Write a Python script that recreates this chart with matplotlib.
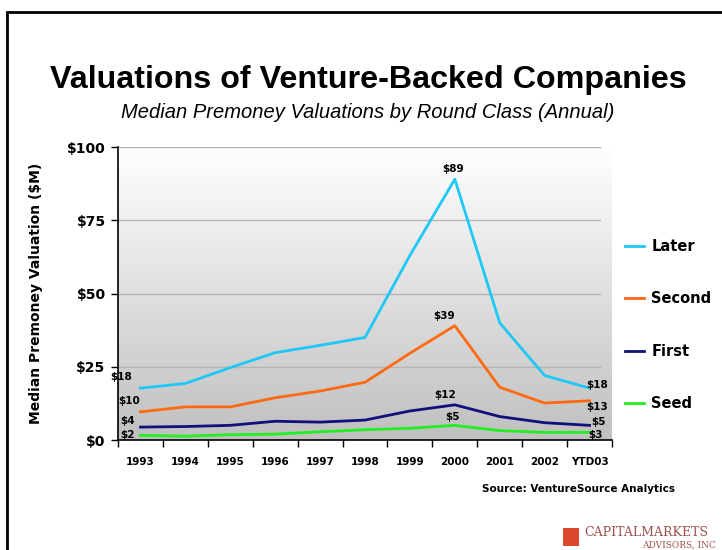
import numpy as np
import matplotlib.pyplot as plt
from matplotlib.patches import Rectangle

years = ['1993', '1994', '1995', '1996', '1997', '1998', '1999', '2000', '2001', '2002', 'YTD03']
later = [17.7, 19.3, 24.7, 29.8, 32.3, 35.0, 63.0, 89.0, 40.0, 22.0, 17.7]
second = [9.6, 11.3, 11.3, 14.4, 16.7, 19.7, 29.6, 39.0, 18.0, 12.6, 13.4]
first = [4.4, 4.6, 5.0, 6.4, 6.1, 6.8, 9.9, 12.0, 8.0, 5.9, 5.0]
seed = [1.6, 1.3, 1.8, 2.0, 2.8, 3.5, 4.0, 5.0, 3.2, 2.6, 2.6]

series = [('Later', later, '#1ec8f5'),
          ('Second', second, '#ff6a10'),
          ('First', first, '#10107a'),
          ('Seed', seed, '#22ee22')]

# label offsets in pixels: (first point, 2000, last point)
label_offsets = {
    'Later': [(-19, 11), (-2, 10), (8, 3)],
    'Second': [(-11, 11), (-11, 10), (8, -6)],
    'First': [(-13, 6), (-10, 10), (9, 3)],
    'Seed': [(-13, 0), (-2, 8), (6, -3)],
}

fig = plt.figure(figsize=(7.22, 5.5), dpi=100)
fig.patches.append(Rectangle((7 / 722, -0.1), 2, 1.1 - 12 / 550, transform=fig.transFigure,
                             fill=False, edgecolor='black', linewidth=2))

ax = fig.add_axes([118 / 722, 110 / 550, 494 / 722, 293 / 550])
x = np.arange(len(years))

# gradient background
grad = np.linspace(1, 0, 256).reshape(-1, 1)
ax.imshow(grad, extent=[-0.5, len(years) - 0.5, 0, 100], aspect='auto',
          cmap=plt.matplotlib.colors.LinearSegmentedColormap.from_list('g', ['#c0c0c0', '#ffffff']),
          zorder=0, origin='upper')

for yv in [25, 50, 75, 100]:
    ax.axhline(yv, xmin=0, xmax=0.975, color='#b4b4b4', linewidth=1, zorder=1)

for name, vals, col in series:
    ax.plot(x, vals, color=col, linewidth=2, label=name, zorder=3)
    offs = label_offsets[name]
    for idx, off in zip([0, 7, len(years) - 1], offs):
        ax.annotate('$%d' % round(vals[idx]), (x[idx], vals[idx]), xytext=off,
                    textcoords='offset pixels', ha='center', va='center',
                    fontsize=7.5, fontweight='bold', zorder=4)

ax.set_xlim(-0.5, len(years) - 0.5)
ax.set_ylim(0, 100)
ax.set_yticks([0, 25, 50, 75, 100])
ax.set_yticklabels(['$0', '$25', '$50', '$75', '$100'], fontsize=10, fontweight='bold')
ax.set_xticks(np.arange(len(years) + 1) - 0.5, minor=False)
ax.set_xticklabels([])
ax.set_xticks(x, minor=True)
ax.set_xticklabels(years, minor=True, fontsize=7.5, fontweight='bold')
ax.tick_params(axis='x', which='major', length=5, width=1, direction='out')
ax.tick_params(axis='x', which='minor', length=0, pad=12)
ax.tick_params(axis='y', length=5, width=1, direction='out', pad=4)
for s in ['top', 'right']:
    ax.spines[s].set_visible(False)
for s in ['left', 'bottom']:
    ax.spines[s].set_linewidth(1.2)

ax.set_ylabel('Median Premoney Valuation ($M)', fontsize=10, fontweight='bold', labelpad=17)

leg = ax.legend(loc='upper left', bbox_to_anchor=(1.0, 0.73), frameon=False,
                handlelength=1.3, handletextpad=0.5, labelspacing=2.55,
                prop={'size': 10.5, 'weight': 'bold'})
for line in leg.get_lines():
    line.set_linewidth(2)

fig.text(368 / 722, 1 - 80 / 550, 'Valuations of Venture-Backed Companies', ha='center', va='center',
         fontsize=23.2, fontweight='bold', family='Liberation Sans')
fig.text(368 / 722, 1 - 112 / 550, 'Median Premoney Valuations by Round Class (Annual)', ha='center',
         va='center', fontsize=14.5, style='italic', family='Liberation Sans')
fig.text(675 / 722, 1 - 489 / 550, 'Source: VentureSource Analytics', ha='right', va='center',
         fontsize=7.5, fontweight='bold')

# logo
fig.patches.append(Rectangle((563 / 722, 1 - 546 / 550), 16 / 722, 18 / 550, transform=fig.transFigure,
                             facecolor='#d9482e', edgecolor='none'))
fig.text(584 / 722, 1 - 532 / 550, 'CAPITALMARKETS', ha='left', va='center', fontsize=9,
         color='#a05050', family='DejaVu Serif')
fig.text(642 / 722, 1 - 545 / 550, 'ADVISORS, INC', ha='left', va='center', fontsize=6.5,
         color='#a05050', family='DejaVu Serif')

fig.savefig('out.png', dpi=100)
